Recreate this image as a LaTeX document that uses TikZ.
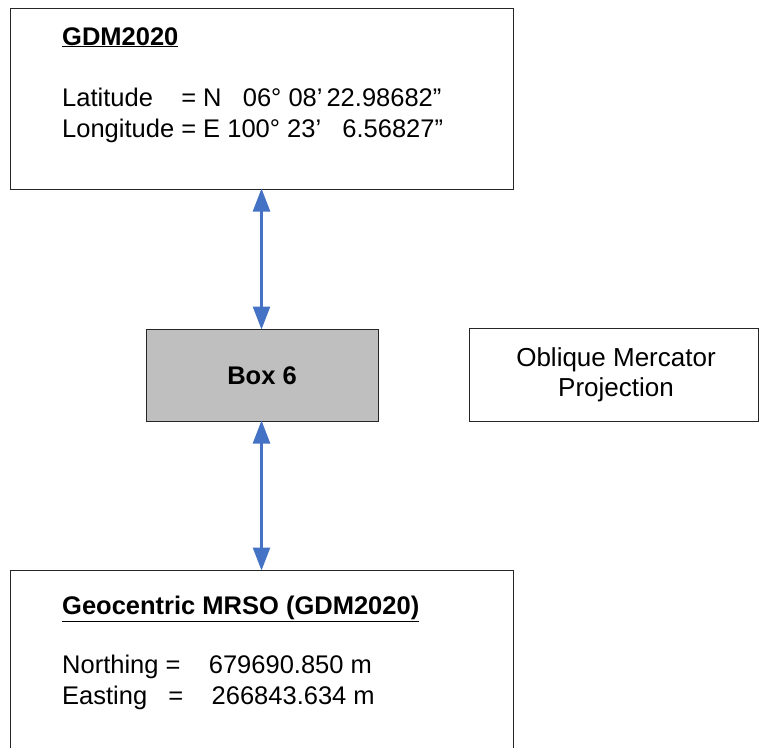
\documentclass[tikz,border=0pt]{standalone}
\usepackage{fontspec}
\setmainfont{Liberation Sans}
\usetikzlibrary{arrows.meta}
\definecolor{arrowblue}{HTML}{4472C4}
\definecolor{boxgray}{HTML}{BFBFBF}
\begin{document}
\begin{tikzpicture}[x=1pt,y=-1pt,
  frame/.style={draw=black!85, line width=1pt},
  txt/.style={anchor=base west, inner sep=0pt, font=\fontsize{25.5pt}{30pt}\selectfont},
  head/.style={anchor=base west, inner sep=0pt, font=\fontsize{25.5pt}{30pt}\selectfont\bfseries},
  link/.style={draw=arrowblue, line width=2.5pt, {Triangle[length=23pt,width=17pt]}-{Triangle[length=23pt,width=17pt]}, shorten <=-0.5pt, shorten >=-0.5pt}]
\useasboundingbox (0,0) rectangle (760,747);
\begin{scope}
\clip (0,0) rectangle (760,747);
% boxes
\draw[frame] (10,8) rectangle (513,189);
\coordinate (topmid) at (261.5,189);
\draw[frame, fill=boxgray] (146,329) rectangle (378,421);
\node[inner sep=0pt, font=\fontsize{25.5pt}{30pt}\selectfont\bfseries] (box6) at (262,376) {Box 6};
\coordinate (b6top) at (261.5,329);
\coordinate (b6bot) at (261.5,421);
\draw[frame] (469,328) rectangle (758,421);
\node[inner sep=0pt, align=center, font=\fontsize{26pt}{30pt}\selectfont] (omp) at (616,375) {Oblique Mercator\\Projection};
\draw[frame] (10,570) rectangle (513,770);
\coordinate (botmid) at (261.5,570);
% top text
\node[head] (h1) at (62,45) {\underline{GDM2020}};
\node[txt] (lat) at (62,106) {Latitude~~~~=~N~~~06°~08’\hspace{4pt}22.98682”};
\node[txt] (lon) at (62,137) {Longitude~=~E~100°~23’~~~6.56827”};
% bottom text
\node[head] (h2) at (62,614) {\underline{Geocentric MRSO (GDM2020)}};
\node[txt] (nor) at (62,673) {Northing~=~~~~679690.850~m};
\node[txt] (eas) at (62,704) {Easting~~~=~~~~266843.634~m};
% arrows
\draw[link] (topmid) -- (b6top);
\draw[link] (b6bot) -- (botmid);
\end{scope}
\end{tikzpicture}
\end{document}
